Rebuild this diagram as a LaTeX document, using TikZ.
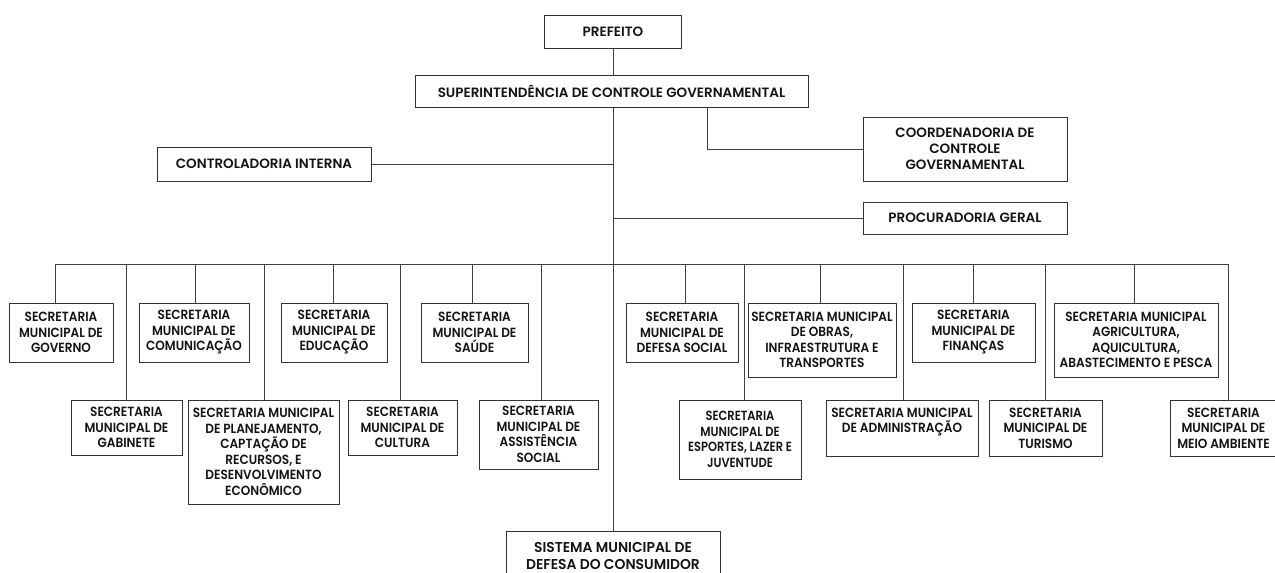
\documentclass[tikz,border=0pt]{standalone}
\usepackage{fontspec}
\newfontfamily\headfont{Poppins SemiBold}
\newfontfamily\orgfont{Poppins SemiBold}[FakeStretch=0.91]
\newfontfamily\narrowfont{Poppins SemiBold}[FakeStretch=0.86]
\newfontfamily\widefont{Poppins SemiBold}[FakeStretch=0.97]
\begin{document}
\begin{tikzpicture}[x=1pt,y=-1pt,
  unit box/.style={draw=black!80, line width=1pt, rectangle, inner sep=0pt,
    align=center, text=black!92,
    font=\orgfont\fontsize{13.3}{15.5}\selectfont},
  head box/.style={unit box, font=\headfont\fontsize{13.5}{16}\selectfont},
  narrow box/.style={unit box, font=\narrowfont\fontsize{13.3}{15.5}\selectfont},
  link/.style={draw=black!75, line width=0.9pt}]
\clip (0,0) rectangle (1275,573);
\fill[white] (0,0) rectangle (1275,573);

% top of the hierarchy
\node[head box, minimum width=137, minimum height=33] (pre) at (613,31.5) {PREFEITO};
\node[head box, minimum width=393, minimum height=32] (sup) at (611.5,91) {SUPERINTENDÊNCIA DE CONTROLE GOVERNAMENTAL};
\node[head box, minimum width=214, minimum height=34] (ctl) at (264,164) {CONTROLADORIA INTERNA};
\node[head box, minimum width=204, minimum height=64] (coo) at (965,149) {COORDENADORIA DE\\CONTROLE\\GOVERNAMENTAL};
\node[head box, minimum width=204, minimum height=32] (pro) at (965,218) {PROCURADORIA GERAL};

% secretarias, upper row
\node[unit box, minimum width=104, minimum height=59] (gov) at (61,332.5) {SECRETARIA\\MUNICIPAL DE\\GOVERNO};
\node[unit box, minimum width=110, minimum height=59] (com) at (194,332.5) {SECRETARIA\\MUNICIPAL DE\\COMUNICAÇÃO};
\node[unit box, minimum width=106, minimum height=59] (edu) at (334,332.5) {SECRETARIA\\MUNICIPAL DE\\EDUCAÇÃO};
\node[unit box, minimum width=107, minimum height=59] (sau) at (474.5,332.5) {SECRETARIA\\MUNICIPAL DE\\SAÚDE};
\node[unit box, minimum width=112, minimum height=59] (def) at (682,332.5) {SECRETARIA\\MUNICIPAL DE\\DEFESA SOCIAL};
\node[unit box, minimum width=148, minimum height=74] (obr) at (822,340) {SECRETARIA MUNICIPAL\\DE OBRAS,\\INFRAESTRUTURA E\\TRANSPORTES};
\node[unit box, minimum width=123, minimum height=59] (fin) at (973.5,332.5) {SECRETARIA\\MUNICIPAL DE\\FINANÇAS};
\node[unit box, minimum width=164, minimum height=74] (agr) at (1136,340) {SECRETARIA MUNICIPAL\\AGRICULTURA,\\AQUICULTURA,\\ABASTECIMENTO E PESCA};

% secretarias, lower row
\node[unit box, minimum width=111, minimum height=55] (gab) at (126.5,427.5) {SECRETARIA\\MUNICIPAL DE\\GABINETE};
\node[unit box, minimum width=151, minimum height=104] (pla) at (263.5,452) {SECRETARIA MUNICIPAL\\DE PLANEJAMENTO,\\CAPTAÇÃO DE\\RECURSOS, E\\DESENVOLVIMENTO\\ECONÔMICO};
\node[unit box, minimum width=109, minimum height=55] (cul) at (402.5,427.5) {SECRETARIA\\MUNICIPAL DE\\CULTURA};
\node[unit box, minimum width=119, minimum height=69] (ass) at (538.5,434.5) {SECRETARIA\\MUNICIPAL DE\\ASSISTÊNCIA\\SOCIAL};
\node[narrow box, minimum width=122, minimum height=79] (esp) at (740,439.5) {SECRETARIA\\MUNICIPAL DE\\ESPORTES, LAZER E\\JUVENTUDE};
\node[unit box, minimum width=152, minimum height=56] (adm) at (902,428) {SECRETARIA MUNICIPAL\\DE ADMINISTRAÇÃO\\\mbox{}};
\node[unit box, minimum width=113, minimum height=56] (tur) at (1045.5,428) {SECRETARIA\\MUNICIPAL DE\\TURISMO};
\node[unit box, minimum width=107, minimum height=56] (mei) at (1223.5,428) {SECRETARIA\\MUNICIPAL DE\\MEIO AMBIENTE};

% consumer protection, below the spine
\node[unit box, minimum width=214, minimum height=50,
      font=\widefont\fontsize{14.3}{17}\selectfont] (sis) at (613,556) {SISTEMA MUNICIPAL DE\\DEFESA DO CONSUMIDOR};

% connectors
\coordinate (cbend) at (707,147);
\draw[link] (pre.south) -- (pre.south |- sup.north);
\draw[link] (sis.north |- sup.south) -- (sis.north);
\draw[link] (ctl.east) -- (ctl.east -| sis.north);
\draw[link] (pro.west) -- (pro.west -| sis.north);
\draw[link] (cbend |- sup.south) |- (coo.west);

\coordinate (busL) at (55,264);
\coordinate (busR) at (1228,264);
\draw[link] (busL) -- (busR);
\foreach \n/\x in {gov/55,gab/126,com/195,pla/264,edu/333,cul/400,sau/472,ass/541,
                   def/685,esp/744,obr/820,adm/903,fin/973,tur/1045,agr/1134,mei/1228}{
  \coordinate (d\n) at (\x,264);
  \draw[link] (d\n) -- (d\n |- \n.north);
}
\end{tikzpicture}
\end{document}
